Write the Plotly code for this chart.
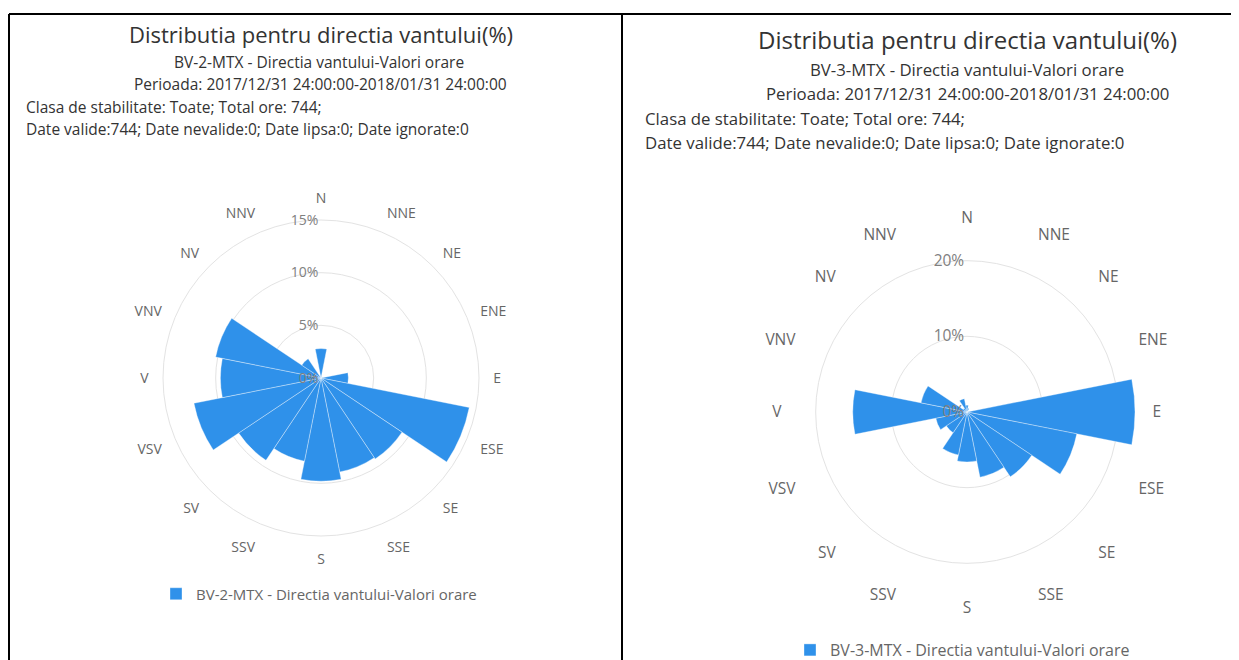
import plotly.graph_objects as go

# page body has an 8px margin: figure is shifted by OFF px
OFF = 8
W, H = 1239 - OFF, 660 - OFF

directions = ["N", "NNE", "NE", "ENE", "E", "ESE", "SE", "SSE",
              "S", "SSV", "SV", "VSV", "V", "VNV", "NV", "NNV"]
values_bv2 = [2.8, 0.13, 0.0, 0.13, 2.6, 14.35, 9.25, 9.1,
              9.8, 8.05, 9.4, 12.3, 9.55, 10.2, 2.2, 0.13]
values_bv3 = [0.9, 0.5, 0.1, 0.0, 22.2, 14.8, 10.3, 8.8,
              6.6, 5.8, 3.3, 4.2, 15.1, 6.2, 0.6, 1.8]
name_bv2 = "BV-2-MTX - Directia vantului-Valori orare"
name_bv3 = "BV-3-MTX - Directia vantului-Valori orare"
ticks_bv2 = [0, 5, 10, 15]
ticks_bv3 = [0, 10, 20]
title_text = "Distributia pentru directia vantului(%)"
period_text = "Perioada: 2017/12/31 24:00:00-2018/01/31 24:00:00"
info1 = "Clasa de stabilitate: Toate; Total ore: 744;"
info2 = "Date valide:744; Date nevalide:0; Date lipsa:0; Date ignorate:0"

BAR = "#2f91ea"
FONT = "Open Sans"


def px(x):
    return (x - OFF) / W


def py(y):
    return 1 - (y - OFF) / H


fig = go.Figure()
fig.add_trace(go.Barpolar(r=values_bv2, theta=directions, name=name_bv2,
                          marker=dict(color=BAR, line=dict(color="rgba(255,255,255,0.7)", width=0.5)),
                          subplot="polar", legend="legend", showlegend=True))
fig.add_trace(go.Barpolar(r=values_bv3, theta=directions, name=name_bv3,
                          marker=dict(color=BAR, line=dict(color="rgba(255,255,255,0.7)", width=0.5)),
                          subplot="polar2", legend="legend2", showlegend=True))


def polar_cfg(cx, cy, R, rmax, tickvals, fs, showline, tl):
    return dict(
        domain=dict(x=[px(cx - R), px(cx + R)], y=[py(cy + R), py(cy - R)]),
        bgcolor="white",
        bargap=0,
        radialaxis=dict(range=[0, rmax], tickvals=tickvals,
                        ticktext=[f"{v}%" for v in tickvals],
                        showline=False, ticks="", angle=90, side="counterclockwise",
                        tickangle=90,
                        gridcolor="#e3e3e3", gridwidth=1,
                        tickfont=dict(family=FONT, size=fs, color="#808080")),
        angularaxis=dict(rotation=90, direction="clockwise", showgrid=False,
                         showline=showline, linecolor="#e3e3e3", linewidth=1,
                         ticks="outside", ticklen=tl, tickcolor="rgba(0,0,0,0)",
                         tickfont=dict(family=FONT, size=fs, color="#666666")),
    )


fig.update_layout(
    width=W, height=H, margin=dict(l=0, r=0, t=0, b=0, autoexpand=False),
    paper_bgcolor="white", plot_bgcolor="white",
    template="none",
    polar=polar_cfg(321, 378, 158, 15, ticks_bv2, 14, True, 11),
    polar2=polar_cfg(967, 412, 171, 22.6, ticks_bv3, 15.5, False, 11),
    legend=dict(x=px(156), y=py(594), xanchor="left", yanchor="middle",
                font=dict(family=FONT, size=15, color="#666666"), bgcolor="rgba(0,0,0,0)"),
    legend2=dict(x=px(790), y=py(650), xanchor="left", yanchor="middle",
                 font=dict(family=FONT, size=16, color="#666666"), bgcolor="rgba(0,0,0,0)"),
)

annots = [
    (321, 34, title_text, 22, "center"),
    (319, 62, name_bv2, 15.5, "center"),
    (320, 84, period_text, 15.5, "center"),
    (24, 107, info1, 15.5, "left"),
    (24, 129, info2, 15.5, "left"),
    (967, 39, title_text, 24, "center"),
    (967, 69, name_bv3, 16.8, "center"),
    (967, 93, period_text, 16.8, "center"),
    (643, 118, info1, 16.8, "left"),
    (643, 142, info2, 16.8, "left"),
]
for x, y, t, s, anchor in annots:
    fig.add_annotation(x=px(x), y=py(y), xref="paper", yref="paper", text=t,
                       showarrow=False, xanchor=anchor, yanchor="middle",
                       font=dict(family=FONT, size=s, color="#333333"))

# panel borders
for x0, y0, x1, y1 in [(9, 14, 1232, 14), (9, 14, 9, 660), (622, 14, 622, 660), (1232, 14, 1232, 660)]:
    fig.add_shape(type="line", xref="paper", yref="paper",
                  x0=px(x0), y0=py(y0), x1=px(x1), y1=py(y1),
                  line=dict(color="black", width=2))

fig.write_html("out.html")
